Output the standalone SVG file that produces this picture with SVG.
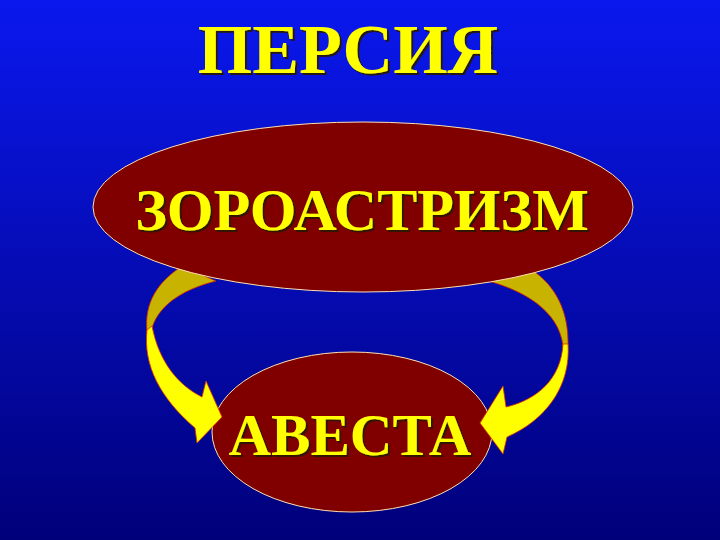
<svg xmlns="http://www.w3.org/2000/svg" width="720" height="540" viewBox="0 0 720 540">
<defs>
<linearGradient id="bg" x1="0" y1="0" x2="0" y2="1">
<stop offset="0" stop-color="#0a18ee"/>
<stop offset="1" stop-color="#00007a"/>
</linearGradient>
<filter id="sh" x="-10%" y="-20%" width="120%" height="140%">
<feDropShadow dx="2" dy="2" stdDeviation="0.6" flood-color="#2a1800" flood-opacity="0.9"/>
</filter>
<style>
.t{font-family:"Liberation Serif","Times New Roman",serif;font-weight:bold;fill:#ffff00;text-anchor:middle;filter:url(#sh)}
.node{fill:#800000;stroke:#ffe0b0;stroke-width:1}
.back{fill:#c8b400;stroke:#d02000;stroke-width:0.8}
.front{fill:#ffff00;stroke:#e03000;stroke-width:0.8}
</style>
</defs>
<rect width="720" height="540" fill="url(#bg)"/>
<text class="t" x="348" y="73" font-size="70">ПЕРСИЯ</text>
<g id="connectors">
<path class="back" d="M147,332 C144,302 158,282 182,266 L216,281 C188,288 160,302 152,328 Z"/>
<path class="back" d="M568,346 C569,312 556,286 532,270 L488,281 C522,290 559,310 563,346 Z"/>
</g>
<g id="zoroastrianism">
<ellipse class="node" cx="363" cy="207" rx="270" ry="85"/>
<text class="t" x="362" y="230" font-size="60">ЗОРОАСТРИЗМ</text>
</g>
<g id="avesta">
<ellipse class="node" cx="352" cy="432" rx="140" ry="80"/>
<text class="t" x="350" y="455" font-size="59">АВЕСТА</text>
</g>
<g id="connectors-front">
<path class="front" d="M147,330 C143,365 160,398 195,428 L197,443 L222,417 L206,381 L202,397 C178,385 159,362 152,326 Z"/>
<path class="front" d="M568,344 C571,386 546,420 507,437 L503,454 L480,423 L503,386 L506,407 C536,400 561,380 563,344 Z"/>
</g>
</svg>
